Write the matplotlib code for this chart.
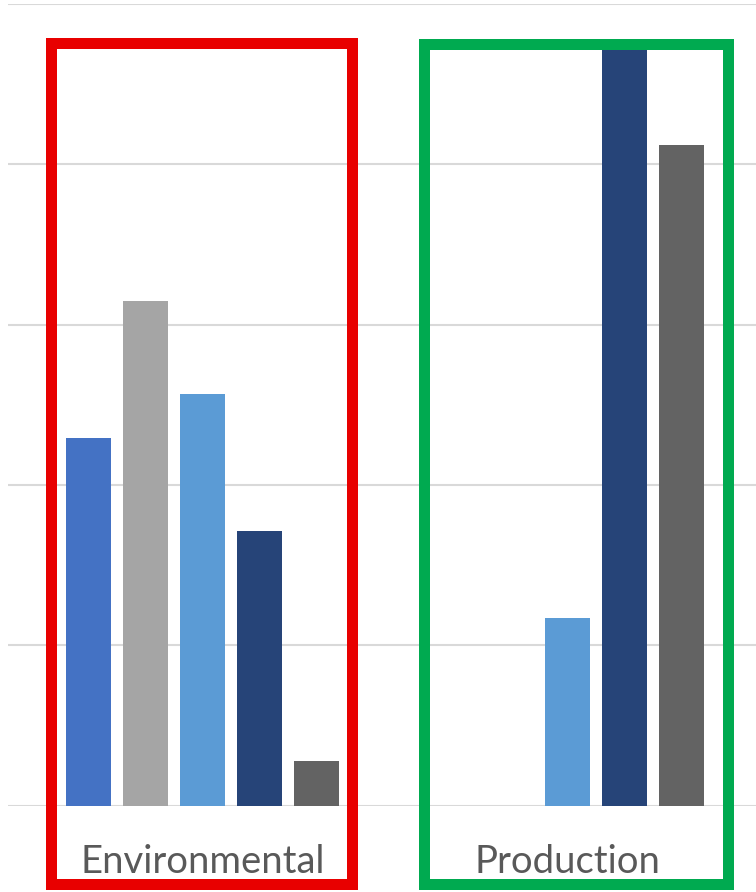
import matplotlib
matplotlib.use("Agg")
import matplotlib.pyplot as plt
from matplotlib.patches import Rectangle
import numpy as np

# Data
categories = ["Environmental", "Production"]
series_names = ["Series 1", "Series 2", "Series 3", "Series 4", "Series 5"]
series_1 = [2.29, 0.0]
series_2 = [3.15, 0.0]
series_3 = [2.57, 1.17]
series_4 = [1.71, 4.75]
series_5 = [0.28, 4.12]
series_values = [series_1, series_2, series_3, series_4, series_5]
series_colors = ["#4472C4", "#A5A5A5", "#5B9BD5", "#264478", "#636363"]

W, H = 756, 892
fig = plt.figure(figsize=(W / 100, H / 100), dpi=100)
fig.patch.set_facecolor("white")

# Plot area in pixel terms: x=8..756, y=4..805 (from top)
ax = fig.add_axes([8 / W, (H - 805.5) / H, (W - 8) / W, (805.5 - 4) / H])
ax.set_facecolor("white")

step = 57 / 365
width = 45 / 365
x = np.arange(len(categories))
for i, (vals, col) in enumerate(zip(series_values, series_colors)):
    offs = (i - 2) * step
    ax.bar(x + offs, vals, width=width, color=col, zorder=3, label=series_names[i])

ax.set_ylim(0, 5)
ax.set_xlim((8 - 202.5) / 365, (756 - 202.5) / 365)
ax.set_yticks(np.arange(0, 6, 1))
ax.set_yticklabels([])
ax.tick_params(axis="y", length=0)
ax.grid(axis="y", color="#D9D9D9", linewidth=1.5, zorder=0)
ax.set_axisbelow(True)
for s in ax.spines.values():
    s.set_visible(False)

ax.set_xticks(x)
ax.set_xticklabels(categories, fontsize=27.5, color="#595959", family="Lato")
ax.tick_params(axis="x", length=0, pad=28)

# Highlight frames around the two categories
def frame(x0, y0, x1, y1, color):
    lw_px = 11
    r = Rectangle((x0 / W, 1 - y1 / H), (x1 - x0) / W, (y1 - y0) / H,
                  transform=fig.transFigure, fill=False, edgecolor=color,
                  linewidth=lw_px * 72 / 100, zorder=10, joinstyle="miter")
    fig.patches.append(r)

frame(50.5, 42.5, 351.5, 883.5, "#E80000")
frame(423.5, 43.5, 727.5, 883.5, "#00AA50")

fig.savefig("out.png", dpi=100, facecolor="white")
